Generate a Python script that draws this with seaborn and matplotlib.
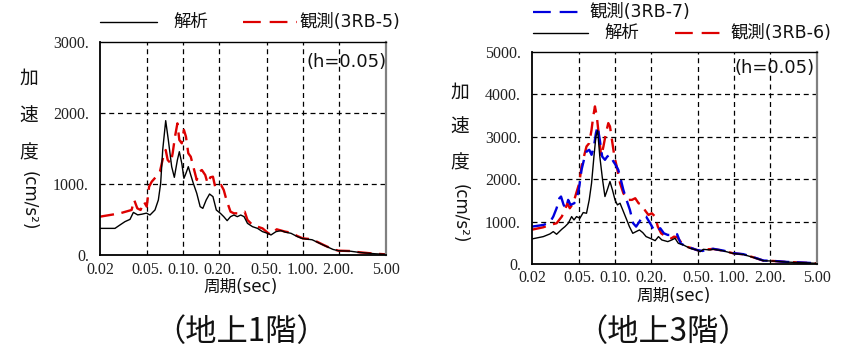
import matplotlib
matplotlib.use("Agg")
import matplotlib.pyplot as plt
import seaborn as sns
import pandas as pd
from matplotlib.lines import Line2D

# ---------------- data ----------------
# Left panel (地上1階)
L_T_ana = [0.02, 0.0267, 0.0294, 0.0324, 0.0357, 0.0381, 0.0414, 0.0450, 0.0490, 0.0525,
           0.0578, 0.0617, 0.0645, 0.0671, 0.0711, 0.0748, 0.0798, 0.0840, 0.0891, 0.0925,
           0.0970, 0.1011, 0.1051, 0.1100, 0.1153, 0.1212, 0.1295, 0.1383, 0.1456, 0.1554,
           0.1658, 0.1770, 0.1889, 0.2044, 0.2181, 0.2329, 0.2486, 0.2654, 0.2834, 0.3025,
           0.3229, 0.3447, 0.3798, 0.4185, 0.4612, 0.5082, 0.5425, 0.598, 0.659, 0.714,
           0.80, 0.90, 1.00, 1.20, 1.50, 1.80, 2.00, 2.50, 3.00, 4.00, 5.00]
L_ana = [375, 375, 423, 470, 502, 600, 565, 575, 590, 563,
         634, 775, 1009, 1479, 1892, 1620, 1244, 1094, 1338, 1455,
         1291, 1080, 1150, 1244, 1127, 1009, 869, 681, 657, 775,
         859, 822, 634, 587, 540, 484, 540, 563, 540, 563,
         540, 446, 399, 375, 329, 305, 282, 329, 343, 322,
         305, 260, 230, 215, 138, 78, 60, 54, 36, 18, 9]

L_T_obs5 = [0.02, 0.0294, 0.0368, 0.0387, 0.0411, 0.0438, 0.0467, 0.0493, 0.0516, 0.0543,
            0.0598, 0.0636, 0.0679, 0.0711, 0.0739, 0.0783, 0.0813, 0.0851, 0.0891, 0.0925,
            0.0970, 0.1011, 0.1051, 0.1100, 0.1153, 0.1212, 0.1295, 0.1365, 0.1429, 0.1525,
            0.1597, 0.1682, 0.1770, 0.1852, 0.1978, 0.2072, 0.2181, 0.2298, 0.2486, 0.2654,
            0.2927, 0.3268, 0.3447, 0.3798, 0.4185, 0.4612, 0.5082, 0.5425, 0.606, 0.714,
            0.80, 0.90, 1.00, 1.20, 1.50, 1.80, 2.00, 2.50, 3.00, 4.00, 5.00]
L_obs5 = [540, 587, 634, 775, 657, 634, 751, 681, 962, 1033,
          1113, 1174, 1385, 1479, 1338, 1291, 1432, 1667, 1854, 1620,
          1573, 1761, 1667, 1432, 1385, 1244, 1056, 1174, 1197, 1127,
          1009, 1094, 1103, 953, 953, 986, 915, 775, 610, 587,
          587, 610, 493, 423, 399, 375, 315, 282, 362, 329,
          315, 268, 235, 221, 141, 80, 61, 56, 38, 19, 9]

# Right panel (地上3階)
R_T_ana = [0.02, 0.0249, 0.0283, 0.0302, 0.0322, 0.0356, 0.0379, 0.0404, 0.0431, 0.0451,
           0.0474, 0.0506, 0.0539, 0.0575, 0.0606, 0.0634, 0.0664, 0.0690, 0.0713, 0.0744,
           0.0785, 0.0822, 0.0860, 0.0906, 0.0950, 0.0999, 0.1046, 0.1101, 0.1160, 0.1238,
           0.1320, 0.1409, 0.1503, 0.1603, 0.1710, 0.1825, 0.1972, 0.2173, 0.2318, 0.2474,
           0.2777, 0.2998, 0.3194, 0.3406, 0.3754, 0.4272, 0.4862, 0.5185, 0.5528, 0.6307,
           0.67, 0.81, 0.988, 1.20, 1.46, 1.77, 2.15, 2.79, 3.85, 5.00]
R_ana = [591, 646, 709, 764, 701, 819, 882, 961, 1118, 1039,
         1118, 1079, 1213, 1197, 1512, 1906, 2535, 3008, 3150, 2535,
         1984, 1591, 1748, 1945, 1748, 1512, 1394, 1433, 1276, 1079,
         882, 724, 764, 803, 740, 646, 606, 551, 646, 567,
         528, 567, 606, 488, 449, 370, 331, 291, 346, 331,
         350, 310, 248, 224, 154, 77, 69, 45, 30, 16]

R_T_obs6 = [0.02, 0.0249, 0.0283, 0.0322, 0.0356, 0.0379, 0.0397, 0.0416, 0.0445, 0.0471,
            0.0500, 0.0522, 0.0547, 0.0575, 0.0606, 0.0634, 0.0655, 0.0677, 0.0702, 0.0737,
            0.0765, 0.0798, 0.0838, 0.0877, 0.0906, 0.0950, 0.0987, 0.1033, 0.1101, 0.1174,
            0.1270, 0.1385, 0.1478, 0.1576, 0.1680, 0.1791, 0.1910, 0.2037, 0.2173, 0.2288,
            0.2443, 0.2674, 0.2985, 0.3133, 0.3328, 0.3560, 0.3970, 0.4272, 0.4862, 0.5449,
            0.5888, 0.67, 0.81, 0.988, 1.20, 1.46, 1.77, 2.15, 2.79, 3.85, 5.00]
R_obs6 = [810, 866, 921, 961, 1118, 1276, 1433, 1315, 1433, 1669,
          1906, 2299, 2535, 2772, 2850, 3165, 3480, 3717, 3480, 2929,
          2535, 2772, 3087, 3323, 3244, 2850, 2535, 2299, 1906, 1669,
          1512, 1512, 1551, 1433, 1394, 1260, 1157, 1197, 1118, 882,
          724, 646, 606, 646, 630, 528, 409, 386, 331, 291,
          346, 354, 314, 252, 228, 157, 79, 71, 47, 31, 16]

R_T_obs7 = [0.02, 0.0249, 0.0283, 0.0302, 0.0322, 0.0340, 0.0351, 0.0369, 0.0387, 0.0403,
            0.0422, 0.0453, 0.0474, 0.0500, 0.0522, 0.0547, 0.0575, 0.0606, 0.0634, 0.0664,
            0.0690, 0.0713, 0.0744, 0.0779, 0.0822, 0.0860, 0.0906, 0.0968, 0.1010, 0.1064,
            0.1119, 0.1174, 0.1248, 0.1333, 0.1420, 0.1503, 0.1603, 0.1710, 0.1825, 0.1972,
            0.2123, 0.2260, 0.2400, 0.2575, 0.2777, 0.2985, 0.3133, 0.3328, 0.3560, 0.3970,
            0.4272, 0.4862, 0.5449, 0.5888, 0.67, 0.81, 0.988, 1.20, 1.46, 1.77, 2.15, 2.79,
            3.85, 5.00]
R_obs7 = [882, 921, 984, 1118, 1315, 1551, 1591, 1394, 1315, 1512,
          1394, 1433, 1512, 1827, 2220, 2457, 2654, 2693, 2575, 2772,
          3087, 3244, 2929, 2535, 2457, 2535, 2575, 2417, 2339, 2220,
          1984, 1748, 1512, 1276, 961, 882, 1000, 1134, 1118, 961,
          803, 764, 843, 724, 685, 685, 724, 701, 488, 409,
          386, 331, 307, 346, 358, 318, 256, 232, 160, 82, 73, 49,
          33, 17]

xticks = [0.02, 0.05, 0.10, 0.20, 0.50, 1.00, 2.00, 5.00]
xtick_labels = ["0.02", "0.05.", "0.10.", "0.20.", "0.50.", "1.00.", "2.00.", "5.00"]
L_yticks = [0, 1000, 2000, 3000]
R_yticks = [0, 1000, 2000, 3000, 4000, 5000]

# ---------------- style ----------------
sns.set_theme(style="white")
CJK = ["DejaVu Sans", "Noto Sans CJK JP"]
CJK_FIRST = ["Noto Sans CJK JP", "DejaVu Sans"]
plt.rcParams["font.family"] = CJK
SERIF = "Liberation Serif"
RED = "#dd0000"
BLUE = "#0000dd"
DASH = (0, (6, 3.2))

W, H = 841, 352
fig = plt.figure(figsize=(W / 100, H / 100), dpi=100)


def fx(x):
    return x / W


def fy(y):
    return 1 - y / H


def make_ax(x0, x1, ytop, ybot):
    return fig.add_axes([fx(x0), fy(ybot), (x1 - x0) / W, (ybot - ytop) / H])


def style_ax(ax, yticks, ymax, xpad, ypad):
    ax.set_xscale("log")
    ax.set_xlim(0.02, 5.0)
    ax.set_ylim(0, ymax)
    ax.set_xticks(xticks)
    ax.set_xticklabels(xtick_labels, fontfamily=SERIF, fontsize=11.5, color="#222222")
    ax.xaxis.set_minor_locator(matplotlib.ticker.NullLocator())
    ax.set_yticks(yticks)
    ax.set_yticklabels([f"{v}." for v in yticks], fontfamily=SERIF, fontsize=11.5, color="#222222")
    ax.tick_params(length=0)
    ax.tick_params(axis="x", pad=xpad)
    ax.tick_params(axis="y", pad=ypad)
    ax.set_xlabel("")
    ax.set_ylabel("")
    for g in xticks[1:-1]:
        ax.axvline(g, color="black", lw=0.9, ls=(0, (4, 3)), zorder=0)
    for g in yticks[1:-1]:
        ax.axhline(g, color="black", lw=0.9, ls=(0, (4, 3)), zorder=0)
    for s in ["left", "bottom", "top"]:
        ax.spines[s].set_color("black")
        ax.spines[s].set_linewidth(1.3)
    ax.spines["top"].set_linewidth(1.0)
    ax.spines["right"].set_color("#808080")
    ax.spines["right"].set_linewidth(1.6)


def draw(ax, T, v, color, ls, lw):
    df = pd.DataFrame({"T": T, "v": v})
    sns.lineplot(data=df, x="T", y="v", ax=ax, color=color, linestyle=ls, lw=lw,
                 estimator=None, sort=False, legend=False)


# ---------------- left panel ----------------
axL = make_ax(100, 386, 42, 255)
draw(axL, L_T_obs5, L_obs5, RED, DASH, 1.7)
draw(axL, L_T_ana, L_ana, "black", "-", 1.0)
style_ax(axL, L_yticks, 3000, 5, 8)

# ---------------- right panel ----------------
axR = make_ax(532, 817, 52, 264)
draw(axR, R_T_obs6, R_obs6, RED, DASH, 1.7)
draw(axR, R_T_obs7, R_obs7, BLUE, DASH, 1.7)
draw(axR, R_T_ana, R_ana, "black", "-", 1.0)
style_ax(axR, R_yticks, 5000, 4, 8)


# ---------------- legends (manual) ----------------
def leg_line(x0, x1, y, color, ls, lw):
    fig.add_artist(Line2D([fx(x0), fx(x1)], [fy(y), fy(y)], color=color, ls=ls, lw=lw,
                          transform=fig.transFigure))


def ftext(x, y, s, size, ha="left", va="center", family=CJK, **kw):
    fig.text(fx(x), fy(y), s, fontsize=size, ha=ha, va=va, family=family, color="#111111", **kw)


LEGD = (0, (8, 4))
leg_line(100, 157, 22, "black", "-", 1.0)
ftext(173, 22, "解析", 12.5)
leg_line(243, 297, 22, RED, LEGD, 1.6)
ftext(299, 22, "観測(3RB-5)", 12.5)

leg_line(533, 586, 12, BLUE, LEGD, 1.6)
ftext(589, 12, "観測(3RB-7)", 12.5)
leg_line(533, 588, 33, "black", "-", 1.0)
ftext(604, 33, "解析", 12.5)
leg_line(675, 727, 33, RED, LEGD, 1.6)
ftext(730, 33, "観測(3RB-6)", 12.5)

# damping annotation
ftext(307, 62, "(h=0.05)", 13)
ftext(735, 68, "(h=0.05)", 13)

# y-axis labels
for (x, ys, yc) in [(29, (78, 116, 153), 201), (460, (92, 127, 163), 214)]:
    for yy, ch in zip(ys, "加速度"):
        ftext(x, yy, ch, 13.5, ha="center")
    ftext(x, yc, "(cm/s²)", 12, ha="center", rotation=270)

# x-axis labels
ftext(241, 287, "周期(sec)", 12, ha="center")
ftext(674, 296, "周期(sec)", 12, ha="center")

# panel titles
ftext(241.5, 332, "（地上1階）", 22.5, ha="center", family=CJK_FIRST)
ftext(663.5, 332, "（地上3階）", 22.5, ha="center", family=CJK_FIRST)

fig.savefig("out.png", dpi=100)
